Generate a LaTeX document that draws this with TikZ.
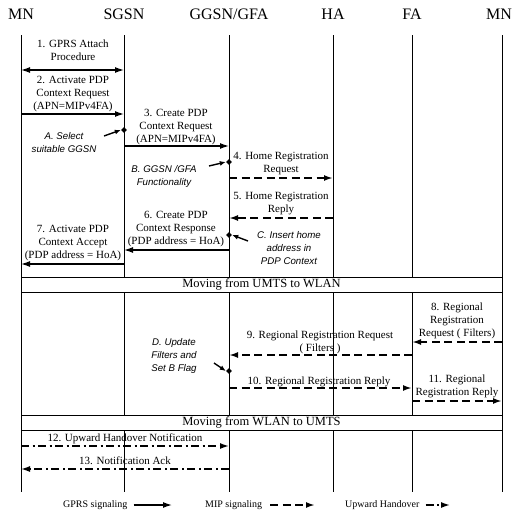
\documentclass[tikz,border=0pt]{standalone}
\usepackage{fontspec}
\setmainfont{Liberation Serif}
\setsansfont{Liberation Sans}
\usetikzlibrary{arrows.meta,shapes.geometric}

\begin{document}
\begin{tikzpicture}[x=1pt,y=-1pt,
  >={Latex[length=9pt,width=6pt]},
  hdr/.style={font=\fontsize{16}{18}\selectfont, inner sep=0pt},
  msg/.style={font=\fontsize{11}{13}\selectfont, align=center, inner sep=0pt},
  lgd/.style={font=\fontsize{10}{12}\selectfont, inner sep=0pt},
  note/.style={font=\sffamily\itshape\fontsize{9.7}{13}\selectfont, align=center, inner sep=0pt},
  life/.style={line width=0.9pt},
  band/.style={draw, fill=white, line width=0.9pt, font=\fontsize{12.5}{14}\selectfont,
    minimum width=481pt, minimum height=15pt, inner sep=0pt},
  gprs/.style={line width=1.3pt, ->},
  mip/.style={line width=1.9pt, dash pattern=on 8pt off 4.5pt, ->},
  upho/.style={line width=1.5pt, dash pattern=on 8pt off 3.5pt on 2pt off 3.5pt, ->},
  dmd/.style={diamond, fill=black, inner sep=0pt, minimum size=6pt},
  ptr/.style={line width=1.4pt, -{Latex[length=6pt,width=5pt]}}]
\useasboundingbox (0,0) rectangle (514,517);

% Headers
\node[hdr] (mnL) at (21,14) {MN};
\node[hdr] (sgsn) at (124,14) {SGSN};
\node[hdr] (ggsn) at (229,14) {GGSN/GFA};
\node[hdr] (ha) at (333,14) {HA};
\node[hdr] (fa) at (412,14) {FA};
\node[hdr] (mnR) at (499,14) {MN};

% Lifelines
\foreach \n in {mnL,sgsn,ggsn,ha,fa}
  \draw[life] (\n |- 0,35) -- (\n |- 0,492);
\coordinate (mnr) at (502,0);
\draw[life] (mnr |- 0,35) -- (mnr |- 0,492);

% Bands
\node[band] (bd1) at (261.5,284.5) {Moving from UMTS to WLAN};
\node[band] (bd2) at (261.5,422.5) {Moving from WLAN to UMTS};

% 1
\node[msg] (t1) at (73,50) {1. GPRS Attach\\Procedure};
\draw[gprs, <->] (mnL |- 0,70) -- (sgsn |- 0,70);
% 2
\node[msg] (t2) at (73,94.5) {2. Activate PDP\\Context Request\\(APN=MIPv4FA)};
\draw[gprs] (mnL |- 0,114) -- (sgsn |- 0,114);
% 3
\node[msg] (t3) at (176,127) {3. Create PDP\\Context Request\\(APN=MIPv4FA)};
\draw[gprs] (sgsn |- 0,146) -- (ggsn |- 0,146);
% A
\node[note] (tA) at (64,142.5) {A. Select\\suitable GGSN};
\node[dmd] (dA) at (sgsn |- 0,130) {};
\coordinate (pA) at (104,136);
\draw[ptr] (pA) -- (dA.west);
% 4
\node[msg] (t4) at (281,164) {4. Home Registration\\Request};
\draw[mip] (ggsn |- 0,178) -- (ha |- 0,178);
% B
\node[note] (tB) at (164,176) {B. GGSN /GFA\\Functionality};
\node[dmd] (dB) at (ggsn |- 0,162) {};
\coordinate (pB) at (209,166);
\draw[ptr] (pB) -- (dB.west);
% 5
\node[msg] (t5) at (281,203.5) {5. Home Registration\\Reply};
\draw[mip, line width=2.3pt] (ha |- 0,218) -- (ggsn |- 0,218);
% 6
\node[msg] (t6) at (176,229.5) {6. Create PDP\\Context Response\\(PDP address = HoA)};
\draw[gprs] (ggsn |- 0,250) -- (sgsn |- 0,250);
% C
\node[note] (tC) at (289,248) {C. Insert home\\address in\\PDP Context};
\node[dmd] (dC) at (ggsn |- 0,235) {};
\coordinate (pC) at (248,241);
\draw[ptr] (pC) -- (dC.east);
% 7
\node[msg] (t7) at (73,243) {7. Activate PDP\\Context Accept\\(PDP address = HoA)};
\draw[gprs] (sgsn |- 0,264) -- (mnL |- 0,264);

% 8
\node[msg] (t8) at (457,320.5) {8. Regional\\Registration\\Request ( Filters)};
\draw[mip] (mnr |- 0,342) -- (fa |- 0,342);
% 9
\node[msg] (t9) at (320,342) {9. Regional Registration Request\\( Filters )};
\draw[mip] (fa |- 0,355) -- (ggsn |- 0,355);
% D
\node[note] (tD) at (174,356) {D. Update\\Filters and\\Set B Flag};
\node[dmd] (dD) at (ggsn |- 0,371) {};
\coordinate (pD) at (214,363);
\draw[ptr] (pD) -- (dD.west);
% 10
\node[msg] (t10) at (319,382) {10. Regional Registration Reply};
\draw[mip] (ggsn |- 0,388) -- (fa |- 0,388);
% 11
\node[msg] (t11) at (457,386.5) {11. Regional\\Registration Reply};
\draw[mip] (fa |- 0,401) -- (mnr |- 0,401);

% 12
\node[msg] (t12) at (125,439) {12. Upward Handover Notification};
\draw[upho] (mnL |- 0,446) -- (ggsn |- 0,446);
% 13
\node[msg] (t13) at (125,461) {13. Notification Ack};
\draw[upho] (ggsn |- 0,469) -- (mnL |- 0,469);

% Legend
\node[lgd, anchor=west] (lgG) at (63,505) {GPRS signaling};
\coordinate (lgGe) at (172,505);
\draw[gprs] ([xshift=6pt]lgG.east) -- (lgGe);
\node[lgd, anchor=west] (lgM) at (205,505) {MIP signaling};
\coordinate (lgMe) at (315,505);
\draw[mip] ([xshift=8pt]lgM.east) -- (lgMe);
\node[lgd, anchor=west] (lgU) at (345,505) {Upward Handover};
\coordinate (lgUe) at (450,505);
\draw[upho] ([xshift=6pt]lgU.east) -- (lgUe);
\end{tikzpicture}
\end{document}
